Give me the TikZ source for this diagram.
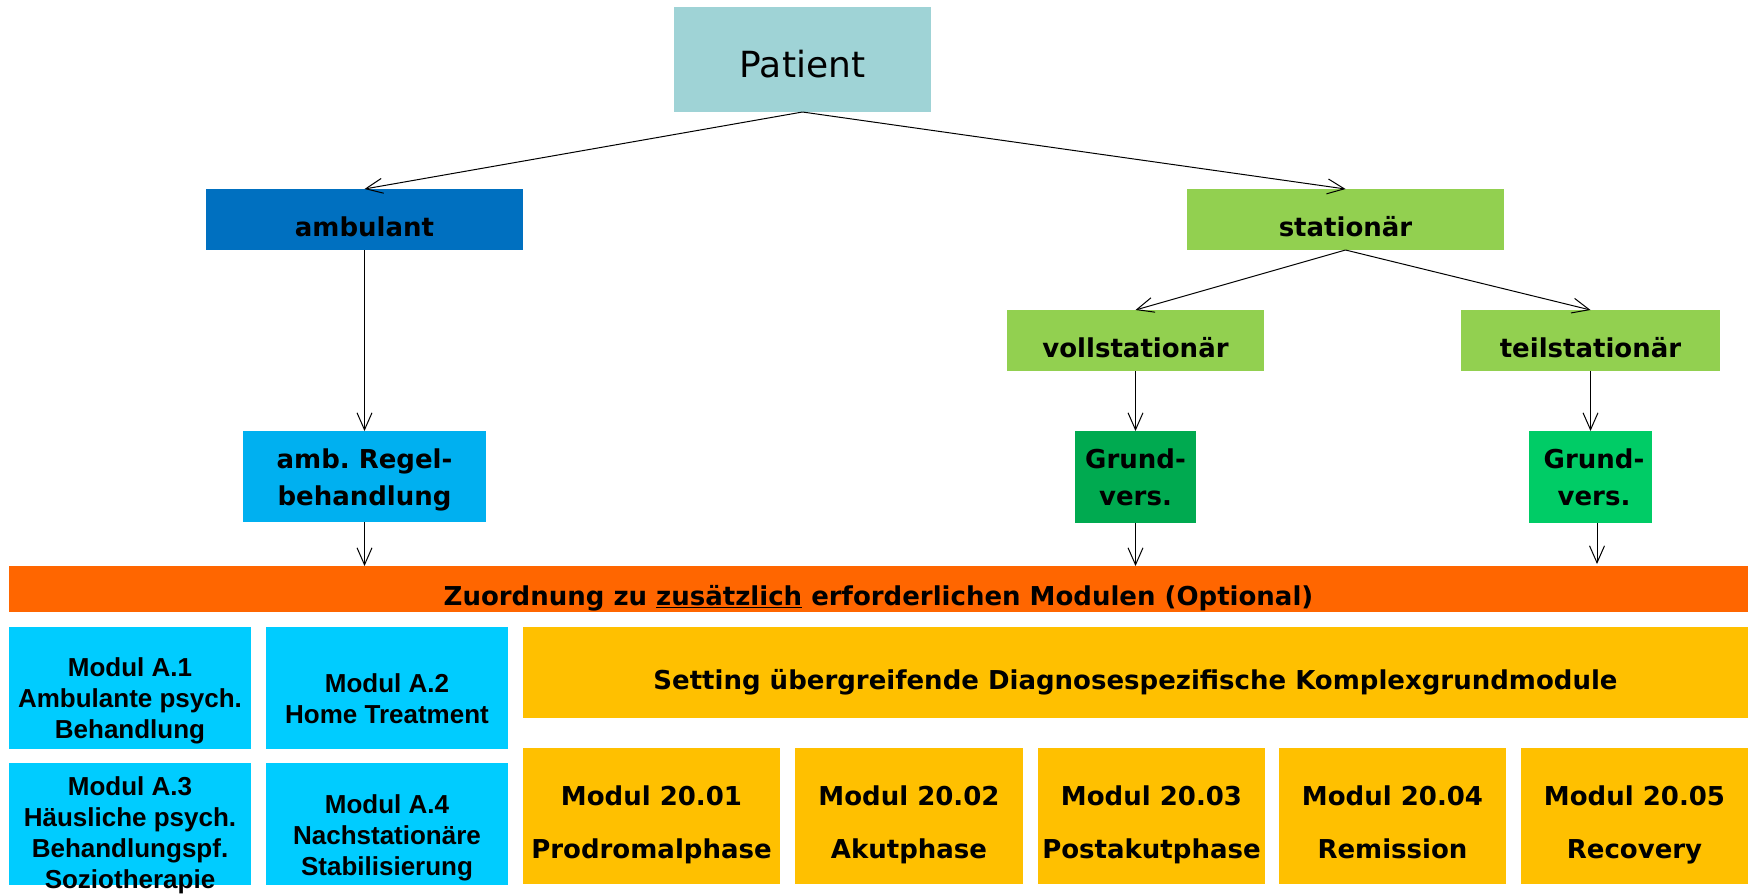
\documentclass[tikz,border=0pt]{standalone}
\usepackage{fontspec}
\setmainfont{DejaVu Sans}
\newfontfamily\arialb{Liberation Sans}
\usetikzlibrary{arrows.meta}
\frenchspacing
\definecolor{patc}{HTML}{9FD3D6}
\definecolor{ambc}{HTML}{0070C0}
\definecolor{statc}{HTML}{92D050}
\definecolor{regelc}{HTML}{00B0F0}
\definecolor{grundA}{HTML}{00AA50}
\definecolor{grundB}{HTML}{00CC66}
\definecolor{orangec}{HTML}{FF6600}
\definecolor{modac}{HTML}{00CCFF}
\definecolor{yelc}{HTML}{FFC000}
\begin{document}
\begin{tikzpicture}[x=1pt,y=-1pt,
  bx/.style={rectangle,inner sep=0pt,outer sep=0pt,draw=none},
  tx/.style={inner sep=0pt,outer sep=0pt,align=center,anchor=base,font=\bfseries\fontsize{26}{37}\selectfont},
  txa/.style={inner sep=0pt,outer sep=0pt,align=center,anchor=base,font=\arialb\bfseries\fontsize{26}{31}\selectfont},
  txy/.style={inner sep=0pt,outer sep=0pt,align=center,anchor=base,font=\bfseries\fontsize{26}{53}\selectfont},
  arr/.style={-{Straight Barb[length=17pt,width=15pt]},line width=1pt,black}]
\useasboundingbox (0,0) rectangle (1750,894);

% top level
\node[bx,fill=patc,minimum width=257pt,minimum height=105pt] (pat) at (802.5,59.5) {};
\node[inner sep=0pt,anchor=base,font=\fontsize{36}{44}\selectfont] (patT) at (802.5,77) {Patient};

\node[bx,fill=ambc,minimum width=317pt,minimum height=61pt] (amb) at (364.5,219.5) {};
\node[tx] (ambT) at (364.5,236) {ambulant};
\node[bx,fill=statc,minimum width=317pt,minimum height=61pt] (stat) at (1345.5,219.5) {};
\node[tx] (statT) at (1345.5,236) {station\"ar};

\node[bx,fill=statc,minimum width=257pt,minimum height=61pt] (voll) at (1135.5,340.5) {};
\node[tx] (vollT) at (1135.5,357) {vollstation\"ar};
\node[bx,fill=statc,minimum width=259pt,minimum height=61pt] (teil) at (1590.5,340.5) {};
\node[tx] (teilT) at (1590.5,357) {teilstation\"ar};

\node[bx,fill=regelc,minimum width=243pt,minimum height=91pt] (regel) at (364.5,476.5) {};
\node[tx] (regelT) at (364.5,505) {amb. Regel-\\behandlung};
\node[bx,fill=grundA,minimum width=121pt,minimum height=92pt] (g1) at (1135.5,477) {};
\node[tx] (g1T) at (1135.5,505) {Grund-\\vers.};
\node[bx,fill=grundB,minimum width=123pt,minimum height=92pt] (g2) at (1590.5,477) {};
\node[tx] (g2T) at (1594,505) {Grund-\\vers.};

% bar
\node[bx,fill=orangec,minimum width=1739pt,minimum height=46pt] (bar) at (878.5,589) {};
\node[tx] (barT) at (878.5,605) {Zuordnung zu \underline{zus\"atzlich} erforderlichen Modulen (Optional)};

% modules A
\node[bx,fill=modac,minimum width=242pt,minimum height=122pt] (a1) at (130,688) {};
\node[txa] (a1T) at (130,738) {Modul A.1\\Ambulante psych.\\Behandlung};
\node[bx,fill=modac,minimum width=242pt,minimum height=122pt] (a2) at (387,688) {};
\node[txa] (a2T) at (387,723) {Modul A.2\\Home Treatment};
\node[bx,fill=modac,minimum width=242pt,minimum height=122pt] (a3) at (130,824) {};
\node[txa] (a3T) at (130,888) {Modul A.3\\H\"ausliche psych.\\Behandlungspf.\\Soziotherapie};
\node[bx,fill=modac,minimum width=242pt,minimum height=122pt] (a4) at (387,824) {};
\node[txa] (a4T) at (387,875) {Modul A.4\\Nachstation\"are\\Stabilisierung};

% yellow modules
\node[bx,fill=yelc,minimum width=1225pt,minimum height=91pt] (set) at (1135.5,672.5) {};
\node[tx] (setT) at (1135.5,689) {Setting \"ubergreifende Diagnosespezifische Komplexgrundmodule};
\node[bx,fill=yelc,minimum width=257pt,minimum height=136pt] (m1) at (651.5,816) {};
\node[txy] (m1T) at (651.5,858) {Modul 20.01\\Prodromalphase};
\node[bx,fill=yelc,minimum width=228pt,minimum height=136pt] (m2) at (909,816) {};
\node[txy] (m2T) at (909,858) {Modul 20.02\\Akutphase};
\node[bx,fill=yelc,minimum width=227pt,minimum height=136pt] (m3) at (1151.5,816) {};
\node[txy] (m3T) at (1151.5,858) {Modul 20.03\\Postakutphase};
\node[bx,fill=yelc,minimum width=227pt,minimum height=136pt] (m4) at (1392.5,816) {};
\node[txy] (m4T) at (1392.5,858) {Modul 20.04\\Remission};
\node[bx,fill=yelc,minimum width=227pt,minimum height=136pt] (m5) at (1634.5,816) {};
\node[txy] (m5T) at (1634.5,858) {Modul 20.05\\Recovery};

% connectors
\draw[arr] (pat.south) -- (amb.north);
\draw[arr] (pat.south) -- (stat.north);
\draw[arr] (stat.south) -- (voll.north);
\draw[arr] (stat.south) -- (teil.north);
\draw[arr] (amb.south) -- (regel.north);
\draw[arr] (voll.south) -- (g1.north);
\draw[arr] (teil.south) -- (g2.north);
\draw[arr] (regel.south) -- (regel.south |- bar.north);
\draw[arr] (g1.south) -- (g1.south |- bar.north);
\draw[arr] ([xshift=6.5pt]g2.south) -- ([xshift=6.5pt,yshift=2pt]g2.south |- bar.north);
\end{tikzpicture}
\end{document}
